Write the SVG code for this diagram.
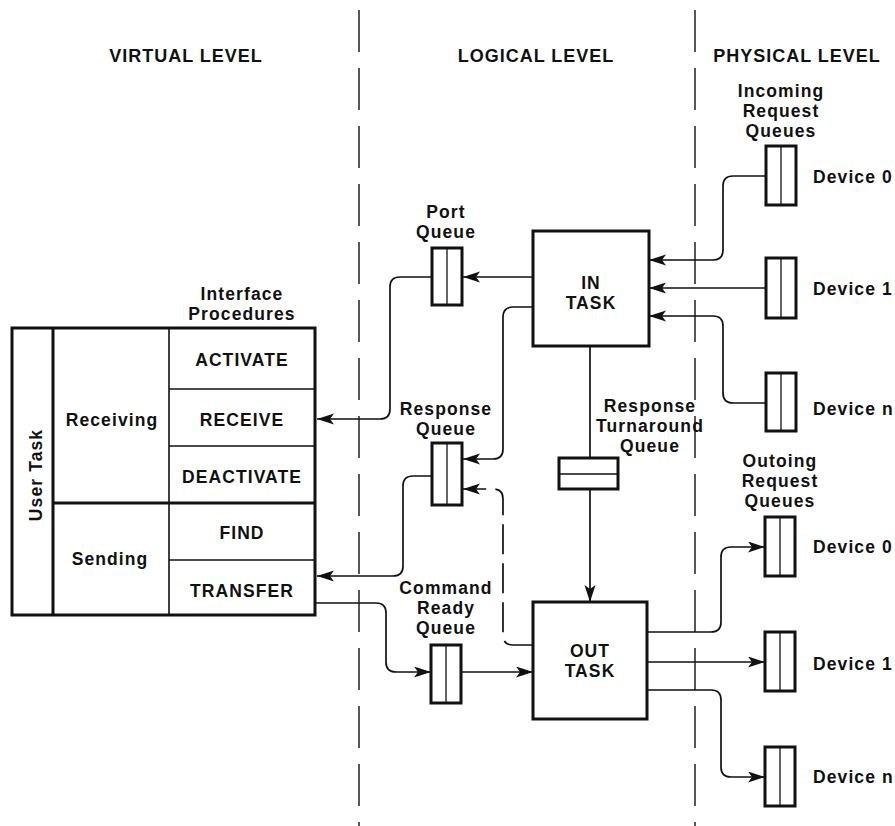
<svg xmlns="http://www.w3.org/2000/svg" width="895" height="826" viewBox="0 0 895 826">
<style>
text{font-family:"Liberation Sans",Arial,sans-serif;font-weight:bold;font-size:17.5px;letter-spacing:1.1px;fill:#111;text-anchor:middle}
.hdr{font-size:18px;letter-spacing:1px}
.dev{text-anchor:start}
.sep{stroke:#111;stroke-width:1.4;stroke-dasharray:42 16;fill:none}
.box{fill:#fff;stroke:#111;stroke-width:3}
.thin{stroke:#111;stroke-width:1.3;fill:none}
.cell{stroke:#111;stroke-width:1.6;fill:none}
.con{stroke:#111;stroke-width:1.7;fill:none;marker-end:url(#ah)}
.dash{stroke-dasharray:30 9}
</style>
<defs>
<marker id="ah" markerUnits="userSpaceOnUse" markerWidth="19" markerHeight="12" refX="17" refY="5.5" orient="auto">
<path d="M0,0 L17,5.5 L0,11 L4,5.5 Z" fill="#111"/>
</marker>
</defs>

<g id="separators">
<line class="sep" x1="359" y1="10" x2="359" y2="826"/>
<line class="sep" x1="695" y1="10" x2="695" y2="826"/>
</g>

<g id="headers">
<text class="hdr" x="186" y="62">VIRTUAL LEVEL</text>
<text class="hdr" x="536" y="62">LOGICAL LEVEL</text>
<text class="hdr" x="797" y="62">PHYSICAL LEVEL</text>
</g>

<g id="connectors">
<path class="con" d="M533,277 H463"/>
<path class="con" d="M432,277 H400 Q390,277 390,287 V409 Q390,419 380,419 H317"/>
<path class="con" d="M533,307 H513 Q503,307 503,317 V449 Q503,459 493,459 H463"/>
<path class="con dash" d="M533,645 H513 Q503,645 503,635 V499 Q503,489 493,489 H463"/>
<path class="con" d="M432,476 H413 Q403,476 403,486 V566 Q403,576 393,576 H317"/>
<path class="con" d="M315,603 H376 Q386,603 386,613 V662 Q386,672 396,672 H431"/>
<path class="con" d="M461,672 H533"/>
<path class="con" d="M590,346 V602"/>
<path class="con" d="M766,176 H733 Q723,176 723,186 V250 Q723,260 713,260 H649"/>
<path class="con" d="M766,288 H649"/>
<path class="con" d="M766,403 H733 Q723,403 723,393 V326 Q723,316 713,316 H649"/>
<path class="con" d="M647,632 H711 Q721,632 721,622 V557 Q721,547 731,547 H765"/>
<path class="con" d="M647,662 H765"/>
<path class="con" d="M647,690 H711 Q721,690 721,700 V767 Q721,777 731,777 H765"/>
</g>

<g id="user-task">
<rect class="box" x="12" y="328" width="303" height="287"/>
<line x1="53" y1="328" x2="53" y2="615" stroke="#111" stroke-width="3"/>
<line class="cell" x1="169" y1="328" x2="169" y2="615"/>
<line class="cell" x1="169" y1="389" x2="315" y2="389"/>
<line class="cell" x1="169" y1="446" x2="315" y2="446"/>
<line x1="53" y1="503" x2="315" y2="503" stroke="#111" stroke-width="3"/>
<line class="cell" x1="169" y1="560" x2="315" y2="560"/>
<text transform="translate(42,475) rotate(-90)">User Task</text>
<text x="112" y="426">Receiving</text>
<text x="110" y="565">Sending</text>
<text x="242" y="300">Interface</text>
<text x="242" y="320">Procedures</text>
<text x="242" y="366">ACTIVATE</text>
<text x="242" y="426">RECEIVE</text>
<text x="242" y="483">DEACTIVATE</text>
<text x="242" y="539">FIND</text>
<text x="242" y="597">TRANSFER</text>
</g>

<g id="port-queue">
<rect class="box" x="432" y="248" width="30" height="57"/>
<line class="thin" x1="447" y1="248" x2="447" y2="305"/>
<text x="446" y="218">Port</text>
<text x="446" y="238">Queue</text>
</g>

<g id="response-queue">
<rect class="box" x="432" y="443" width="30" height="62"/>
<line class="thin" x1="447" y1="443" x2="447" y2="505"/>
<text x="446" y="415">Response</text>
<text x="446" y="435">Queue</text>
</g>

<g id="command-ready-queue">
<rect class="box" x="431" y="645" width="30" height="58"/>
<line class="thin" x1="446" y1="645" x2="446" y2="703"/>
<text x="446" y="594">Command</text>
<text x="446" y="614">Ready</text>
<text x="446" y="634">Queue</text>
</g>

<g id="in-task">
<rect class="box" x="533" y="231" width="116" height="115"/>
<text x="591" y="289">IN</text>
<text x="591" y="309">TASK</text>
</g>

<g id="response-turnaround-queue">
<rect class="box" x="559" y="458" width="59" height="31"/>
<line class="thin" x1="559" y1="474" x2="618" y2="474"/>
<text x="650" y="412">Response</text>
<text x="650" y="432">Turnaround</text>
<text x="650" y="452">Queue</text>
</g>

<g id="out-task">
<rect class="box" x="533" y="602" width="114" height="117"/>
<text x="590" y="657">OUT</text>
<text x="590" y="677">TASK</text>
</g>

<g id="incoming-queues">
<text x="781" y="97">Incoming</text>
<text x="781" y="117">Request</text>
<text x="781" y="137">Queues</text>
</g>
<g id="in-device-0">
<rect class="box" x="766" y="146" width="30" height="59"/>
<line class="thin" x1="781" y1="146" x2="781" y2="205"/>
<text class="dev" x="813" y="183">Device 0</text>
</g>
<g id="in-device-1">
<rect class="box" x="766" y="258" width="30" height="60"/>
<line class="thin" x1="781" y1="258" x2="781" y2="318"/>
<text class="dev" x="813" y="295">Device 1</text>
</g>
<g id="in-device-n">
<rect class="box" x="766" y="373" width="30" height="58"/>
<line class="thin" x1="781" y1="373" x2="781" y2="431"/>
<text class="dev" x="813" y="415">Device n</text>
</g>

<g id="outgoing-queues">
<text x="780" y="467">Outoing</text>
<text x="780" y="487">Request</text>
<text x="780" y="507">Queues</text>
</g>
<g id="out-device-0">
<rect class="box" x="765" y="517" width="30" height="59"/>
<line class="thin" x1="780" y1="517" x2="780" y2="576"/>
<text class="dev" x="813" y="553">Device 0</text>
</g>
<g id="out-device-1">
<rect class="box" x="765" y="632" width="30" height="59"/>
<line class="thin" x1="780" y1="632" x2="780" y2="691"/>
<text class="dev" x="813" y="670">Device 1</text>
</g>
<g id="out-device-n">
<rect class="box" x="765" y="747" width="30" height="59"/>
<line class="thin" x1="780" y1="747" x2="780" y2="806"/>
<text class="dev" x="813" y="783">Device n</text>
</g>
</svg>
